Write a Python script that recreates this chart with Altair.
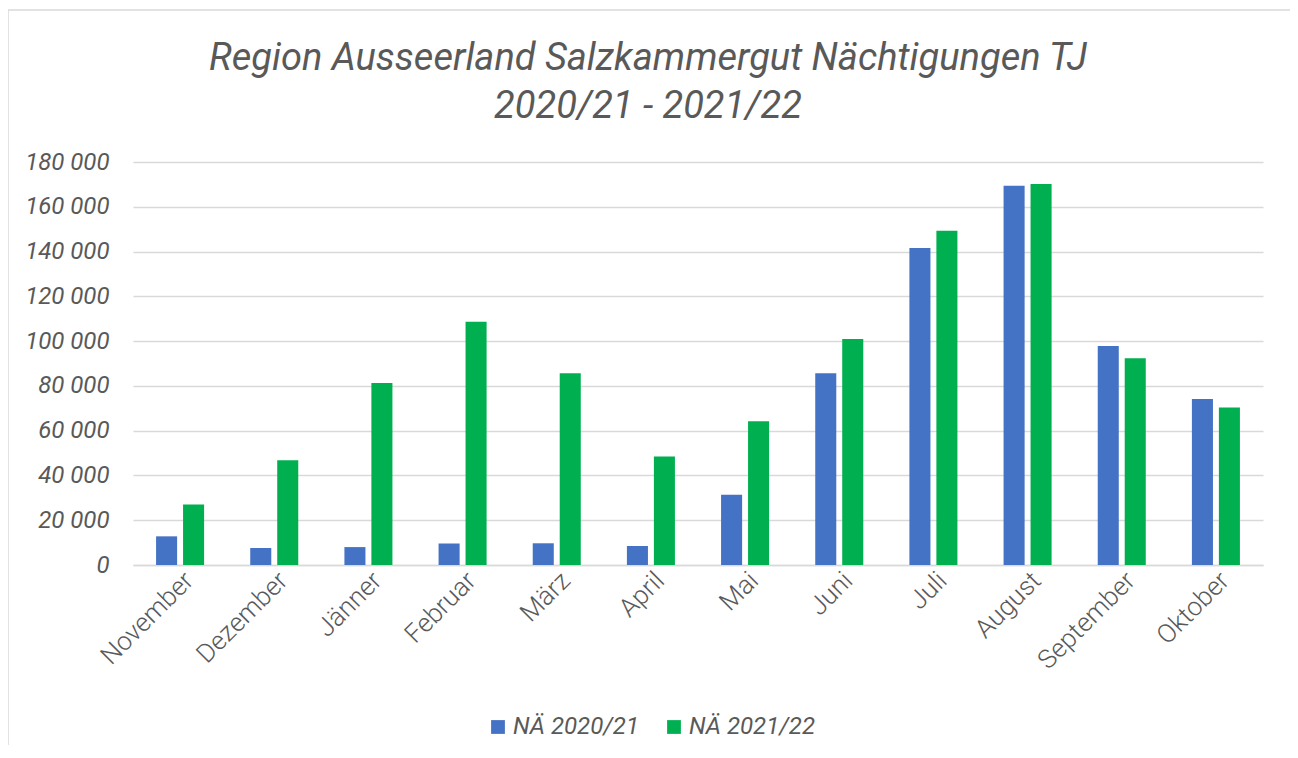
import altair as alt
import pandas as pd

months = ["November", "Dezember", "Jänner", "Februar", "März", "April",
          "Mai", "Juni", "Juli", "August", "September", "Oktober"]
series_names = ["NÄ 2020/21", "NÄ 2021/22"]
values_2021 = [12800, 7600, 8000, 9600, 9700, 8500, 31400, 85600, 141600, 169400, 97800, 74100]
values_2122 = [27000, 46800, 81300, 108700, 85600, 48500, 64200, 100900, 149300, 170200, 92300, 70400]
colors = ["#4472C4", "#00B050"]
title_lines = ["Region Ausseerland Salzkammergut Nächtigungen TJ", "2020/21 - 2021/22"]

rows = []
for m, a, b in zip(months, values_2021, values_2122):
    rows.append({"month": m, "series": series_names[0], "value": a})
    rows.append({"month": m, "series": series_names[1], "value": b})
df = pd.DataFrame(rows)

txt = "#595959"
font = "Roboto"

bars = alt.Chart(df).mark_bar().encode(
    x=alt.X("month:N", sort=months, title=None,
            scale=alt.Scale(paddingInner=0.49, paddingOuter=0.245),
            axis=alt.Axis(labelAngle=-45, labelAlign="right", labelBaseline="top",
                          labelFont=font, labelFontWeight=300, labelFontSize=26,
                          labelColor=txt, labelPadding=2, ticks=False,
                          domainColor="#d9d9d9", domainWidth=1.5, grid=False)),
    xOffset=alt.XOffset("series:N", sort=series_names,
                        scale=alt.Scale(paddingInner=0.22)),
    y=alt.Y("value:Q", title=None,
            scale=alt.Scale(domain=[0, 180000], nice=False),
            axis=alt.Axis(values=list(range(0, 180001, 20000)),
                          labelExpr="replace(format(datum.value, ',d'), ',', ' ')",
                          labelFont=font, labelFontStyle="italic", labelFontSize=24,
                          labelColor=txt, labelPadding=24, ticks=False, domain=False,
                          gridColor="#d9d9d9", gridWidth=1.5)),
    color=alt.Color("series:N", sort=series_names,
                    scale=alt.Scale(domain=series_names, range=colors),
                    legend=alt.Legend(title=None, orient="none", direction="horizontal",
                                      legendX=353, legendY=553,
                                      symbolType="square", symbolSize=190,
                                      symbolStrokeWidth=0,
                                      labelFont=font, labelFontStyle="italic",
                                      labelFontSize=24, labelColor=txt,
                                      labelOffset=3, columnPadding=23)),
)

frame = alt.Chart(pd.DataFrame({"a": [0]})).mark_rect(
    fillOpacity=0, stroke="#d9d9d9", strokeWidth=1.5
).encode(
    x=alt.value(-125), x2=alt.value(1160), y=alt.value(-152), y2=alt.value(590)
)

chart = alt.layer(frame, bars).properties(
    width=1130, height=403,
    autosize=alt.AutoSizeParams(type="none"),
    padding={"left": 125, "top": 154, "right": 27, "bottom": 180},
    title=alt.TitleParams(text=title_lines, font=font, fontSize=38,
                          fontStyle="italic", fontWeight="normal", color=txt,
                          lineHeight=48, offset=-117, dx=-50, anchor="middle"),
).configure_view(stroke=None)

chart.save("out.html", embed_options={"renderer": "svg", "actions": False})
